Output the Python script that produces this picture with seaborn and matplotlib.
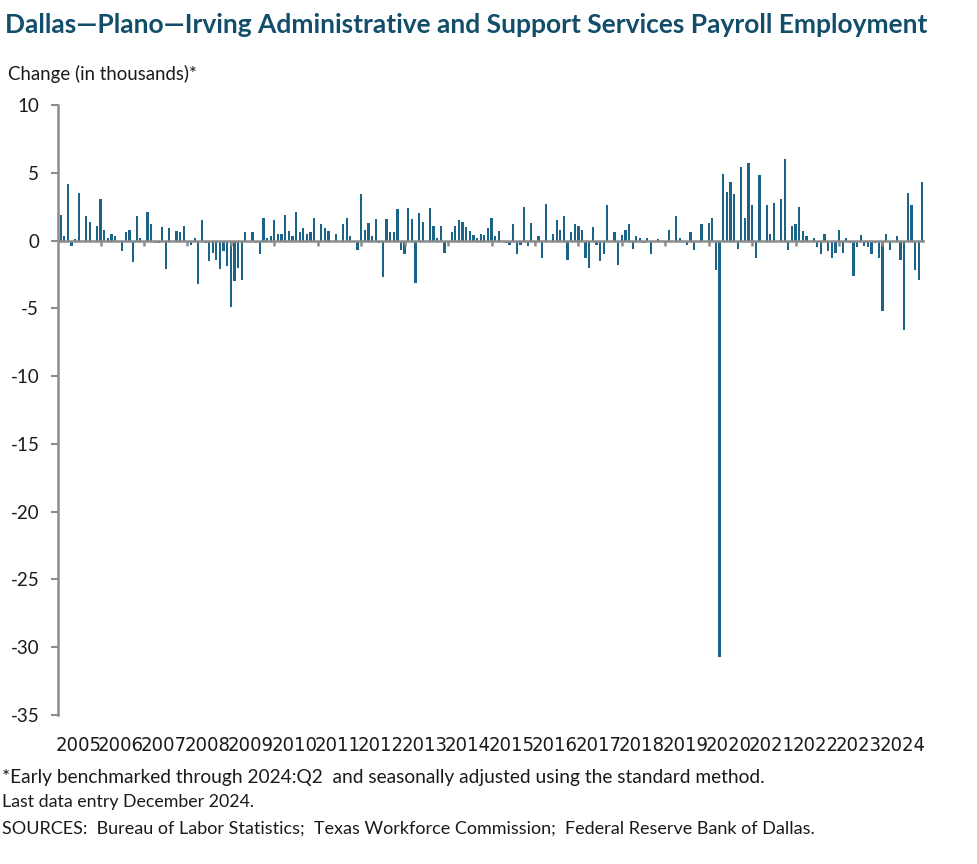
import numpy as np
import pandas as pd
import matplotlib
matplotlib.use("Agg")
import matplotlib.pyplot as plt
from matplotlib import font_manager as fm
import seaborn as sns

# ---------------- data ----------------
title = "Dallas\u2014Plano\u2014Irving Administrative and Support Services Payroll Employment"
y_label = "Change (in thousands)*"
notes = [
    "*Early benchmarked through 2024:Q2  and seasonally adjusted using the standard method.",
    "Last data entry December 2024.",
    "SOURCES:  Bureau of Labor Statistics;  Texas Workforce Commission;  Federal Reserve Bank of Dallas.",
]
start_month = "2005-02"   # first monthly change shown

chg_2005 = [1.9, 0.3, 4.2, -0.4, 0.1, 3.5, 0.0, 1.8, 1.4, 0.0, 1.1]           # Feb-Dec
chg_2006 = [3.1, 0.8, 0.2, 0.5, 0.3, 0.0, -0.8, 0.6, 0.8, -1.6, 1.8, 0.2]
chg_2007 = [0.0, 2.1, 1.2, -0.2, -0.2, 1.0, -2.1, 0.9, 0.0, 0.7, 0.6, 1.1]
chg_2008 = [-0.1, -0.3, 0.2, -3.2, 1.5, -0.2, -1.5, -0.9, -1.4, -2.1, -0.8, -1.9]
chg_2009 = [-4.9, -3.0, -2.0, -2.9, 0.6, 0.0, 0.6, -0.2, -1.0, 1.7, 0.2, 0.3]
chg_2010 = [1.5, 0.5, 0.5, 1.9, 0.7, 0.3, 2.1, 0.6, 0.9, 0.5, 0.6, 1.7]
chg_2011 = [-0.1, 1.2, 0.9, 0.7, 0.0, 0.5, 0.0, 1.2, 1.7, 0.3, 0.0, -0.7]
chg_2012 = [3.4, 0.8, 1.3, 0.3, 1.6, -0.2, -2.7, 1.6, 0.6, 0.6, 2.3, -0.7]
chg_2013 = [-1.0, 2.4, 1.6, -3.1, 2.0, 1.4, 0.0, 2.4, 1.1, 0.2, 1.1, -0.9]
chg_2014 = [-0.1, 0.6, 1.1, 1.5, 1.4, 1.0, 0.7, 0.4, 0.2, 0.5, 0.4, 0.9]
chg_2015 = [1.7, 0.3, 0.7, 0.0, -0.2, -0.3, 1.2, -1.0, -0.3, 2.5, -0.4, 1.3]
chg_2016 = [-0.1, 0.3, -1.3, 2.7, 0.0, 0.5, 1.5, 0.8, 1.8, -1.4, 0.6, 1.2]
chg_2017 = [1.1, 0.8, -1.3, -2.0, 1.0, -0.3, -1.5, -1.0, 2.6, 0.0, 0.6, -1.8]
chg_2018 = [0.4, 0.8, 1.2, -0.6, 0.3, 0.2, -0.2, 0.2, -1.0, 0.0, 0.1, -0.1]
chg_2019 = [0.0, 0.8, 0.0, 1.8, 0.2, 0.0, -0.3, 0.6, -0.7, 0.0, 1.2, 0.0]
chg_2020 = [1.3, 1.7, -2.2, -30.7, 4.9, 3.6, 4.3, 3.4, -0.6, 5.4, 1.7, 5.7]
chg_2021 = [2.6, -1.3, 4.8, 0.0, 2.6, 0.5, 2.8, 0.0, 3.1, 6.0, -0.7, 1.1]
chg_2022 = [1.2, 2.5, 0.7, 0.3, 0.0, 0.2, -0.5, -1.0, 0.5, -0.8, -1.3, -0.9]
chg_2023 = [0.8, -0.9, 0.2, -0.2, -2.6, -0.5, 0.4, -0.4, -0.5, -1.0, -0.2, -1.3]
chg_2024 = [-5.2, 0.5, -0.7, 0.0, 0.3, -1.4, -6.6, 3.5, 2.6, -2.2, -2.9, 4.3]

year_labels = [str(y) for y in range(2005, 2025)]
y_ticks = [10, 5, 0, -5, -10, -15, -20, -25, -30, -35]

# ---------------- build table ----------------
values = (chg_2005 + chg_2006 + chg_2007 + chg_2008 + chg_2009 + chg_2010 + chg_2011
          + chg_2012 + chg_2013 + chg_2014 + chg_2015 + chg_2016 + chg_2017 + chg_2018
          + chg_2019 + chg_2020 + chg_2021 + chg_2022 + chg_2023 + chg_2024)
dates = pd.date_range(start_month, periods=len(values), freq="MS")
df = pd.DataFrame({"pos": np.arange(len(values)), "change": values, "date": dates})

BAR = "#1b6387"
TITLE_C = "#124e6a"
AXIS_C = "#8c8c8c"
TEXT_C = "#1a1a1a"

sns.set_theme(style="white")
plt.rcParams["font.family"] = ["Lato", "DejaVu Sans"]
plt.rcParams["text.color"] = TEXT_C


def narrow_font():
    """Pick a condensed face for the year labels if one is installed."""
    for fam, stretch in [("Liberation Sans Narrow", "normal"), ("DejaVu Sans", "condensed")]:
        try:
            path = fm.findfont(fm.FontProperties(family=fam, stretch=stretch),
                               fallback_to_default=False)
        except Exception:
            continue
        low = path.lower()
        if "narrow" in low or "condensed" in low:
            return {"family": fam, "stretch": stretch, "size": 14.5}
    return {"family": "Lato", "stretch": "normal", "size": 11.4}


W, H = 977, 864
fig = plt.figure(figsize=(W / 100, H / 100), dpi=100)
ax_left, ax_right, ax_top, ax_bot = 58, 925, 105, 715
ax = fig.add_axes([ax_left / W, 1 - ax_bot / H, (ax_right - ax_left) / W, (ax_bot - ax_top) / H])

sns.barplot(data=df, x="pos", y="change", native_scale=True, color=BAR,
            saturation=1, width=0.62, linewidth=0, ax=ax, zorder=2)

ax.set_xlim(-0.75, len(values) - 0.25)
ax.set_ylim(-35, 10)

# zero line with tick marks at each January
ax.axhline(0, color=AXIS_C, lw=1.8, zorder=3)
jan_pos = df.loc[df["date"].dt.month == 1, "pos"].to_numpy()
ax.vlines(jan_pos, -0.42, 0, color=AXIS_C, lw=1.8, zorder=3)

# year labels centred on each year's bars
centers = df.groupby(df["date"].dt.year)["pos"].mean().to_numpy()
ax.set_xticks(centers, labels=year_labels)
nf = narrow_font()
ax.tick_params(axis="x", length=0, pad=15, labelsize=nf["size"], labelcolor=TEXT_C)
for lab in ax.get_xticklabels():
    lab.set_family([nf["family"], "DejaVu Sans"])
    lab.set_stretch(nf["stretch"])

ax.set_yticks(y_ticks, labels=[str(t) for t in y_ticks])
ax.tick_params(axis="y", left=True, length=5, width=1.5, color=AXIS_C, direction="out",
               pad=8.5, labelsize=13.5, labelcolor=TEXT_C)

for s in ["top", "right", "bottom"]:
    ax.spines[s].set_visible(False)
ax.spines["left"].set_color(AXIS_C)
ax.spines["left"].set_linewidth(1.8)
ax.set_xlabel("")
ax.set_ylabel("")
ax.grid(False)

fig.text(5 / W, 1 - 25 / H, title, fontsize=19.0, fontweight="bold", color=TITLE_C,
         ha="left", va="center")
fig.text(8 / W, 1 - 74 / H, y_label, fontsize=13.4, ha="left", va="center")
for txt, yy, fs in zip(notes, [777, 802, 829], [13.8, 12.8, 13.0]):
    fig.text(2 / W, 1 - yy / H, txt, fontsize=fs, ha="left", va="center")

fig.savefig("out.png", dpi=100)
